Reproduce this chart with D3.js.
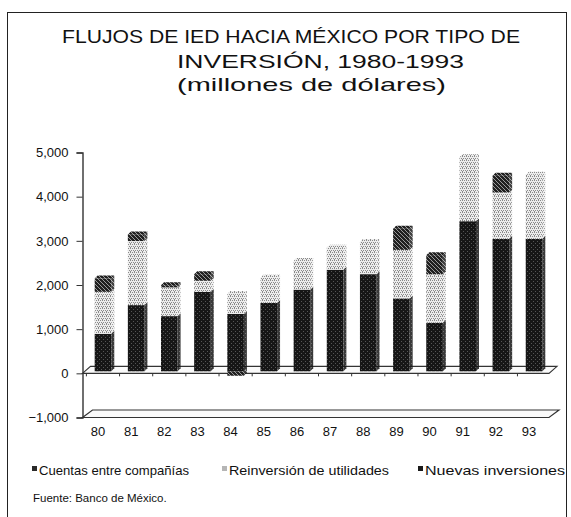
<!DOCTYPE html>
<html>
<head>
<meta charset="utf-8">
<script src="https://cdn.jsdelivr.net/npm/d3@7"></script>
<style>
  body { margin: 0; background: #fff; }
  text { font-family: "Liberation Sans", Arial, sans-serif; fill: #111; }
</style>
</head>
<body>
<div id="chart"></div>
<script>
// data (millones de dolares)
var years = ["80", "81", "82", "83", "84", "85", "86", "87", "88", "89", "90", "91", "92", "93"];
var nuevas = [850, 1500, 1250, 1800, 1300, 1550, 1850, 2300, 2200, 1650, 1100, 3400, 3000, 3000];
var reinversion = [950, 1450, 650, 250, 450, 570, 650, 500, 730, 1100, 1100, 1450, 1050, 1450];
var cuentas = [300, 150, 50, 150, -100, 0, 0, 0, 0, 480, 430, 0, 380, 0];
var yTicks = [-1000, 0, 1000, 2000, 3000, 4000, 5000];

var seriesNames = ["Cuentas entre compañías", "Reinversión de utilidades", "Nuevas inversiones"];

var width = 571, height = 517;
var depth = 3;

var svg = d3.select("#chart").append("svg")
    .attr("width", width)
    .attr("height", height);

// textures, the original is a scanned print
var defs = svg.append("defs");
function makePattern(id, base, dots, dotColor) {
    var p = defs.append("pattern")
        .attr("id", id)
        .attr("width", 4).attr("height", 4)
        .attr("patternUnits", "userSpaceOnUse");
    p.append("rect").attr("width", 4).attr("height", 4).attr("fill", base);
    dots.forEach(function(d) {
        p.append("rect").attr("x", d[0]).attr("y", d[1]).attr("width", 1).attr("height", 1).attr("fill", dotColor);
    });
}
makePattern("pNuevas", "#161616", [[1, 1], [3, 3]], "#555");
makePattern("pReinv", "#ececec", [[0, 0], [2, 0], [1, 2], [3, 2], [2, 3]], "#8a8a8a");
makePattern("pCuentas", "#202020", [[0, 1], [2, 3], [3, 0], [1, 2]], "#9a9a9a");

var fills = { cuentas: "url(#pCuentas)", reinversion: "url(#pReinv)", nuevas: "url(#pNuevas)" };
var legendFills = ["#2a2a2a", "#b5b5b5", "#1a1a1a"];

// outer frame
svg.append("rect")
    .attr("x", 7.5).attr("y", 12.5)
    .attr("width", 559).attr("height", 520)
    .attr("fill", "none")
    .attr("stroke", "#222")
    .attr("stroke-width", 1);

// title
var title = svg.append("g");
title.append("text").attr("x", 62).attr("y", 43).attr("font-size", 18.5)
    .attr("textLength", 458).attr("lengthAdjust", "spacingAndGlyphs")
    .text("FLUJOS DE IED HACIA MÉXICO POR TIPO DE");
title.append("text").attr("x", 177).attr("y", 68).attr("font-size", 18.5)
    .attr("textLength", 287).attr("lengthAdjust", "spacingAndGlyphs")
    .text("INVERSIÓN, 1980-1993");
title.append("text").attr("x", 177).attr("y", 91).attr("font-size", 18.5)
    .attr("textLength", 269).attr("lengthAdjust", "spacingAndGlyphs")
    .text("(millones de dólares)");

// scales
var x = d3.scaleBand().domain(years).range([86.4, 550.6]).paddingInner(0.5).paddingOuter(0.25);
var y = d3.scaleLinear().domain([-1000, 5000]).range([417.5, 152.5]);

var table = years.map(function(yr, i) {
    return { year: yr, nuevas: nuevas[i], reinversion: reinversion[i], cuentas: cuentas[i] };
});
var stack = d3.stack()
    .keys(["nuevas", "reinversion", "cuentas"])
    .offset(d3.stackOffsetDiverging);
var stacked = stack(table);

// floor (at -1,000) and zero plane
var plot = svg.append("g");
var x0 = 82.5, x1 = 549;
function slab(v, dx, dy) {
    return "M" + x0 + "," + y(v) + "L" + (x0 + dx) + "," + (y(v) - dy) +
        "L" + (x1 + dx) + "," + (y(v) - dy) + "L" + x1 + "," + y(v) + "Z";
}
plot.append("path")
    .attr("d", slab(-1000, 10, 7.5))
    .attr("fill", "#fafafa").attr("stroke", "#333").attr("stroke-width", 1.2);
plot.append("path")
    .attr("d", slab(0, 8, 7))
    .attr("fill", "#fafafa").attr("stroke", "#333").attr("stroke-width", 1.1);
// small ticks under the zero plane between categories
plot.selectAll("line.ztick")
    .data(years)
    .enter().append("line")
    .attr("class", "ztick")
    .attr("x1", function(d) { return x(d) - x.step() * 0.25; })
    .attr("x2", function(d) { return x(d) - x.step() * 0.25; })
    .attr("y1", y(0)).attr("y2", y(0) + 3)
    .attr("stroke", "#333");

// bars, bottom to top
var barW = x.bandwidth();
stacked.forEach(function(layer) {
    var key = layer.key;
    var parts = layer.filter(function(d) { return d[1] !== d[0]; });
    var g = plot.append("g");
    g.selectAll("rect")
        .data(parts)
        .enter().append("rect")
        .attr("x", function(d) { return x(d.data.year); })
        .attr("y", function(d) { return y(d[1]) - 2; })
        .attr("width", barW)
        .attr("height", function(d) { return y(d[0]) - y(d[1]); })
        .attr("fill", fills[key]);
    // side face
    g.selectAll("path.side")
        .data(parts)
        .enter().append("path")
        .attr("class", "side")
        .attr("d", function(d) {
            var bx = x(d.data.year) + barW;
            return "M" + bx + "," + (y(d[1]) - 2) + "l" + depth + "," + (-depth) +
                "L" + (bx + depth) + "," + (y(d[0]) - 2 - depth) + "L" + bx + "," + (y(d[0]) - 2) + "Z";
        })
        .attr("fill", fills[key])
        .attr("opacity", 0.85);
});
// top faces
plot.selectAll("path.top")
    .data(table)
    .enter().append("path")
    .attr("class", "top")
    .attr("d", function(d) {
        var top = d.nuevas + d.reinversion + Math.max(d.cuentas, 0);
        var bx = x(d.year), by = y(top) - 2;
        return "M" + bx + "," + by + "l" + depth + "," + (-depth) + "l" + barW + ",0l" + (-depth) + "," + depth + "Z";
    })
    .attr("fill", function(d) { return d.cuentas > 0 ? fills.cuentas : fills.reinversion; });

// y axis
var yAxis = svg.append("g")
    .attr("transform", "translate(82.5,0)")
    .call(d3.axisLeft(y).tickValues(yTicks).tickSize(6).tickFormat(d3.format(",")));
yAxis.select(".domain").attr("stroke", "#333").attr("stroke-width", 1.4);
yAxis.selectAll(".tick line").attr("stroke", "#333");
yAxis.selectAll("text").attr("font-size", 13).attr("font-family", "Liberation Sans, Arial, sans-serif")
    .attr("x", -14).attr("fill", "#111");

// x axis labels, a bit left of the bars because of the 3D view
var xAxis = svg.append("g")
    .attr("transform", "translate(-5," + y(-1000) + ")")
    .call(d3.axisBottom(x).tickSize(0).tickPadding(9));
xAxis.select(".domain").remove();
xAxis.selectAll("text").attr("font-size", 13).attr("font-family", "Liberation Sans, Arial, sans-serif")
    .attr("fill", "#111");

// legend
var legendX = [32, 222, 418];
var legendW = [150, 160, 140];
var legend = svg.append("g").selectAll("g")
    .data(seriesNames)
    .enter().append("g")
    .attr("transform", function(d, i) { return "translate(" + legendX[i] + ",470)"; });
legend.append("rect")
    .attr("x", 0).attr("y", -4)
    .attr("width", 5).attr("height", 5)
    .attr("fill", function(d, i) { return legendFills[i]; });
legend.append("text")
    .attr("x", 7).attr("y", 4.5)
    .attr("font-size", 13)
    .attr("textLength", function(d, i) { return legendW[i]; })
    .attr("lengthAdjust", "spacingAndGlyphs")
    .text(function(d) { return d; });

svg.append("text")
    .attr("x", 33).attr("y", 502)
    .attr("font-size", 11.5)
    .text("Fuente: Banco de México.");
</script>
</body>
</html>
